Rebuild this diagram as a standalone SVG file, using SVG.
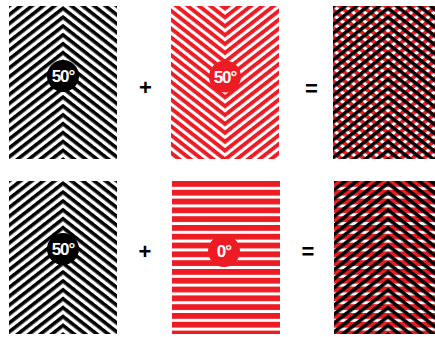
<svg xmlns="http://www.w3.org/2000/svg" width="435" height="337" viewBox="0 0 435 337">
<style>
.lbl{font-family:"Liberation Sans",Arial,sans-serif;font-weight:bold;fill:#fff;text-anchor:middle;font-size:17px;letter-spacing:-1px}
.op{font-family:"Liberation Sans",Arial,sans-serif;font-weight:bold;fill:#000;text-anchor:middle;font-size:22px}
</style>
<defs>
<pattern id="blkL" patternUnits="userSpaceOnUse" width="40" height="7" patternTransform="rotate(-38)"><rect width="40" height="3.6" fill="#000"/></pattern>
<pattern id="blkR" patternUnits="userSpaceOnUse" width="40" height="7" patternTransform="rotate(38)"><rect width="40" height="3.6" fill="#000"/></pattern>
<pattern id="redL" patternUnits="userSpaceOnUse" width="40" height="7" patternTransform="rotate(38)"><rect width="40" height="3.9" fill="#ed1c24"/></pattern>
<pattern id="redR" patternUnits="userSpaceOnUse" width="40" height="7" patternTransform="rotate(-38)"><rect width="40" height="3.9" fill="#ed1c24"/></pattern>
<pattern id="redH" patternUnits="userSpaceOnUse" width="40" height="8.8"><rect width="40" height="5.8" fill="#ed1c24"/></pattern>
</defs>
<rect width="435" height="337" fill="#fff"/>
<g id="panel1" transform="translate(63,6)">
<rect x="-54" y="0" width="54" height="153" fill="url(#blkL)"/>
<rect x="0" y="0" width="54" height="153" fill="url(#blkR)"/>
<circle cx="0" cy="70" r="16" fill="#000"/>
<text class="lbl" x="0" y="76">50°</text>
</g>
<g id="panel2" transform="translate(225,6)">
<rect x="-54" y="0" width="54" height="153" fill="url(#redL)"/>
<rect x="0" y="0" width="54" height="153" fill="url(#redR)"/>
<circle cx="0" cy="70.5" r="16" fill="#ed1c24"/>
<text class="lbl" x="0" y="76.5">50°</text>
</g>
<g id="panel3" transform="translate(388,6)">
<rect x="-55" y="0" width="55" height="153" fill="url(#redL)"/>
<rect x="0" y="0" width="55" height="153" fill="url(#redR)"/>
<rect x="-55" y="0" width="55" height="153" fill="url(#blkL)"/>
<rect x="0" y="0" width="55" height="153" fill="url(#blkR)"/>
</g>
<g id="panel4" transform="translate(63,181)">
<rect x="-54" y="0" width="54" height="153" fill="url(#blkL)"/>
<rect x="0" y="0" width="54" height="153" fill="url(#blkR)"/>
<circle cx="0" cy="68" r="16" fill="#000"/>
<text class="lbl" x="0" y="74">50°</text>
</g>
<g id="panel5" transform="translate(172,181)">
<rect x="0" y="0" width="108" height="153" fill="url(#redH)"/>
<circle cx="52" cy="70" r="16" fill="#ed1c24"/>
<text class="lbl" x="52" y="76">0°</text>
</g>
<g id="panel6" transform="translate(388,181)">
<rect x="-54" y="0" width="101" height="153" fill="url(#redH)"/>
<rect x="-54" y="0" width="54" height="153" fill="url(#blkL)"/>
<rect x="0" y="0" width="54" height="153" fill="url(#blkR)"/>
</g>
<g id="operators">
<text class="op" x="145.5" y="95">+</text>
<text class="op" x="311.5" y="96">=</text>
<text class="op" x="145" y="259">+</text>
<text class="op" x="308" y="259">=</text>
</g>
</svg>
